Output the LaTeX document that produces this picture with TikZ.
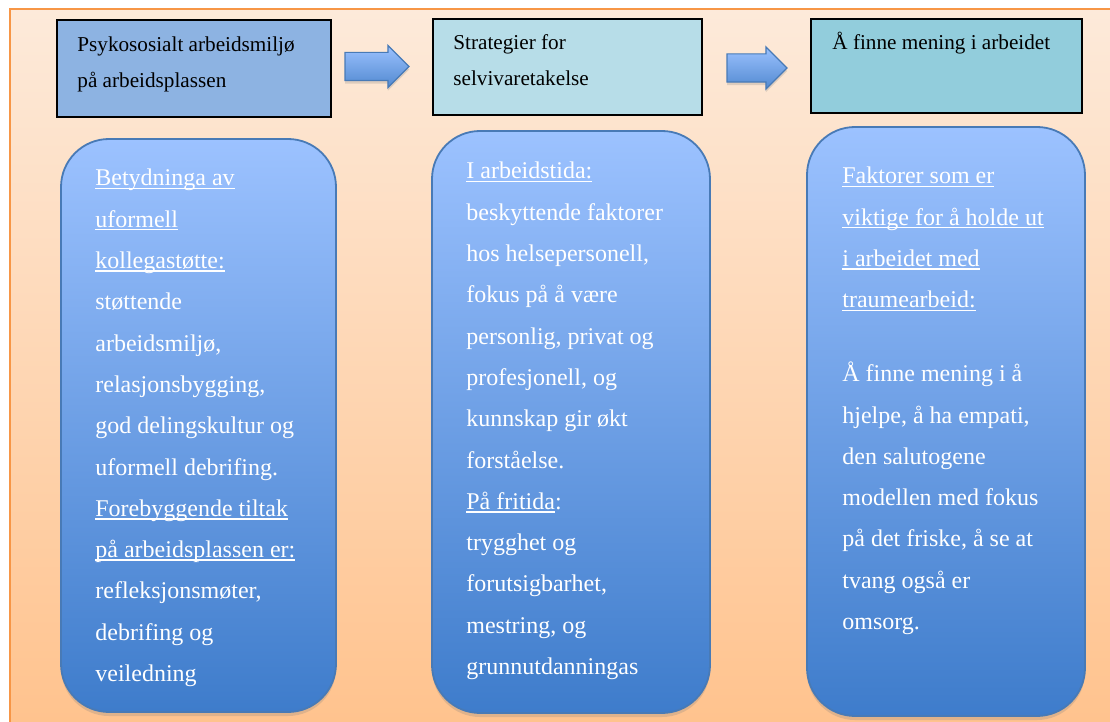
\documentclass[tikz,border=0pt]{standalone}
\usepackage{fontspec}
\setmainfont{Liberation Serif}
\usetikzlibrary{shapes.arrows,shadows}

\definecolor{bgtop}{RGB}{253,234,218}
\definecolor{bgbot}{RGB}{255,194,140}
\definecolor{bgline}{RGB}{247,150,70}
\definecolor{headA}{RGB}{141,179,226}
\definecolor{headB}{RGB}{183,221,232}
\definecolor{headC}{RGB}{146,205,220}
\definecolor{paneltop}{RGB}{156,194,255}
\definecolor{panelbot}{RGB}{62,124,203}
\definecolor{panelline}{RGB}{72,122,182}

\newcommand\undl[1]{\leavevmode\setbox0\hbox{#1}\rlap{\rule[-1.6pt]{\wd0}{0.75pt}}\box0}
\newcommand\paneltext[1]{\parbox[t]{150pt}{\fontsize{12}{20.65}\selectfont\raggedright #1}}
\newcommand\headtext[1]{\parbox[t]{140pt}{\fontsize{10.6}{17.75}\selectfont\raggedright #1}}

\begin{document}
\begin{tikzpicture}[x=0.5pt, y=-0.5pt,
  headbox/.style={draw=black, line width=0.6pt, inner sep=0pt},
  panel/.style={draw=panelline, line width=0.9pt, rounded corners=24pt, inner sep=0pt,
    top color=paneltop, bottom color=panelbot,
    drop shadow={opacity=0.25, shadow xshift=0pt, shadow yshift=-2pt}},
  blockarrow/.style={single arrow, draw=panelline, line width=0.6pt, inner xsep=0pt, inner ysep=6.75pt,
    single arrow head extend=3.5pt, single arrow tip angle=90, minimum width=20.5pt,
    top color=paneltop, bottom color=panelbot!90!white,
    drop shadow={opacity=0.25, shadow xshift=0pt, shadow yshift=-1.5pt}},
  headtxt/.style={anchor=base west, inner sep=0pt},
  bodytxt/.style={anchor=base west, inner sep=0pt, text=white}]
	\useasboundingbox[fill=white] (0,0) rectangle (1110,722);
	\draw[draw=bgline, line width=1.2pt, top color=bgtop, bottom color=bgbot] (10,9) rectangle (1125,740);

	\node[headbox, fill=headA, minimum width=137pt, minimum height=48.5pt] (psyk) at (194,68.5) {};
	\node[headbox, fill=headB, minimum width=134.5pt, minimum height=48pt] (strat) at (567.5,67) {};
	\node[headbox, fill=headC, minimum width=135.5pt, minimum height=47pt] (mening) at (946.5,66) {};
	\node[headtxt] (psyktxt) at (77,52) {\headtext{Psykososialt arbeidsmiljø\\på arbeidsplassen}};
	\node[headtxt] (strattxt) at (453,50) {\headtext{Strategier for\\selvivaretakelse}};
	\node[headtxt] (meningtxt) at (832,50) {\headtext{Å finne mening i arbeidet}};

	\node[blockarrow, minimum height=32pt] (pil1) at (370,66.5) {};
	\node[blockarrow, minimum height=30pt] (pil2) at (750,68) {};

	\node[panel, minimum width=137.5pt, minimum height=286.5pt] (kolleg) at (198.5,425.5) {};
	\node[panel, minimum width=139pt, minimum height=291pt] (arbeid) at (571,422) {};
	\node[panel, minimum width=139pt, minimum height=294.5pt] (faktor) at (946,421.5) {};

	\node[bodytxt] (kollegtxt) at (95,186) {\paneltext{\undl{Betydninga av}\\\undl{uformell}\\\undl{kollegastøtte:}\\
	  støttende\\arbeidsmiljø,\\relasjonsbygging,\\god delingskultur og\\uformell debrifing.\\
	  \undl{Forebyggende tiltak}\\\undl{på arbeidsplassen er:}\\refleksjonsmøter,\\debrifing og\\veiledning}};
	\node[bodytxt] (arbeidtxt) at (466,179) {\paneltext{\undl{I arbeidstida:}\\beskyttende faktorer\\hos helsepersonell,\\
	  fokus på å være\\personlig, privat og\\profesjonell, og\\kunnskap gir økt\\forståelse.\\
	  \undl{På fritida}:\\trygghet og\\forutsigbarhet,\\mestring, og\\grunnutdanningas}};
	\node[bodytxt] (faktortxt) at (842,184) {\paneltext{\undl{Faktorer som er}\\\undl{viktige for å holde ut}\\
	  \undl{i arbeidet med}\\\undl{traumearbeid:}\\[16.3pt]Å finne mening i å\\hjelpe, å ha empati,\\
	  den salutogene\\modellen med fokus\\på det friske, å se at\\tvang også er\\omsorg.}};
\end{tikzpicture}
\end{document}
